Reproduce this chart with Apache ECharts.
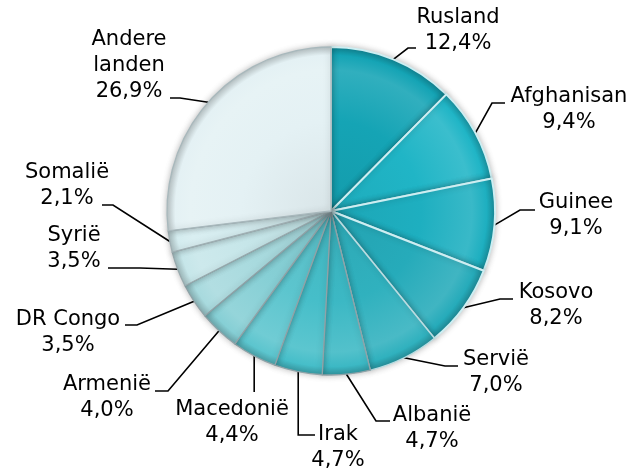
<!DOCTYPE html>
<html>
<head>
<meta charset="utf-8">
<script src="https://cdn.jsdelivr.net/npm/echarts@6/dist/echarts.min.js"></script>
<style>
html,body{margin:0;padding:0;background:#fff;}
#chart{width:640px;height:475px;}
</style>
</head>
<body>
<div id="chart"></div>
<script>
// Data
var categories = ['Rusland','Afghanisan','Guinee','Kosovo','Servië','Albanië','Irak','Macedonië','Armenië','DR Congo','Syrië','Somalië','Andere\nlanden'];
var values = [12.4, 9.4, 9.1, 8.2, 7.0, 4.7, 4.7, 4.4, 4.0, 3.5, 3.5, 2.1, 26.9];
var valueLabels = ['12,4%','9,4%','9,1%','8,2%','7,0%','4,7%','4,7%','4,4%','4,0%','3,5%','3,5%','2,1%','26,9%'];

// Styles / layout (not data)
var palette = ['#15a4b5','#20b5c6','#1eafc0','#26abba','#30b1be','#3cb8c4','#46bec9','#5cc5ce','#86cfd5','#a8dade','#c6e6e9','#d4ecef','#e4f1f4'];
var borderColors = ['#cdeef2','#cdeef2','#cdeef2','#cdeef2','#b9dde2','#8fa3a8','#8fa3a8','#8fa3a8','#8fa3a8','#8fa3a8','#98aaae','#a0b0b4','#a8b8bc'];
var CX = 331, CY = 211, R = 164;
// label block centre, line elbow, line end (null x: line drops vertically from the edge)
var labelLayoutSpec = [
  {x:458, y:31,  elbow:[408,48],  end:[416,48]},
  {x:569, y:110, elbow:[492,103], end:[505,103]},
  {x:576, y:216, elbow:[520,210], end:[535,210]},
  {x:556, y:306, elbow:[500,299], end:[513,299]},
  {x:496, y:373, elbow:[445,366], end:[458,366]},
  {x:432, y:429, elbow:[376,421], end:[390,421]},
  {x:338, y:448, elbow:[null,435], end:[315,435]},
  {x:232, y:423, elbow:[null,375], end:[null,392]},
  {x:107, y:398, elbow:[168,391], end:[155,391]},
  {x:68,  y:333, elbow:[137,325], end:[125,325]},
  {x:74,  y:249, elbow:[140,268], end:[108,268]},
  {x:67,  y:186, elbow:[113,205], end:[102,205]},
  {x:129, y:66,  elbow:[180,98],  end:[170,98]}
];

function shade(hex, amt){
  var n = parseInt(hex.slice(1),16);
  var r=(n>>16)&255,g=(n>>8)&255,b=n&255;
  function f(c){ return Math.max(0,Math.min(255,Math.round(amt>0? c+(255-c)*amt : c*(1+amt)))); }
  return 'rgb('+f(r)+','+f(g)+','+f(b)+')';
}

var seriesData = values.map(function(v,i){
  var base = palette[i];
  return {
    name: categories[i],
    value: v,
    label: {formatter: categories[i] + '\n' + valueLabels[i]},
    itemStyle: {
      borderColor: borderColors[i],
      borderWidth: i < 4 ? 2 : 1.3,
      color: {
        type:'radial', x:CX, y:CY, r:R, global:true,
        colorStops:[
          {offset:0, color: shade(base,-0.05)},
          {offset:0.55, color: base},
          {offset:0.86, color: shade(base,0.12)},
          {offset:0.95, color: base},
          {offset:1, color: shade(base,-0.18)}
        ]
      }
    }
  };
});

var chart = echarts.init(document.getElementById('chart'), null, {renderer:'canvas'});
chart.setOption({
  backgroundColor:'#ffffff',
  animation:false,
  series:[{
    type:'pie',
    center:[CX, CY],
    radius:[0, R],
    startAngle:90,
    clockwise:true,
    data: seriesData,
    itemStyle:{
      shadowBlur:6,
      shadowColor:'rgba(0,0,0,0.25)'
    },
    label:{
      show:true,
      position:'outside',
      color:'#000',
      fontFamily:'DejaVu Sans, Verdana, sans-serif',
      fontSize:21,
      lineHeight:26,
      align:'center'
    },
    labelLine:{
      show:true,
      length:10,
      length2:10,
      lineStyle:{color:'#000', width:1.6}
    },
    labelLayout: function(params){
      var s = labelLayoutSpec[params.dataIndex];
      var p0 = params.labelLinePoints ? params.labelLinePoints[0] : [s.end[0]||0, s.end[1]];
      var elbow = [s.elbow[0] == null ? p0[0] : s.elbow[0], s.elbow[1]];
      var end = [s.end[0] == null ? p0[0] : s.end[0], s.end[1]];
      return {
        x: s.x, y: s.y,
        align:'center', verticalAlign:'middle',
        labelLinePoints:[p0, elbow, end]
      };
    },
    emphasis:{disabled:true}
  }]
});
</script>
</body>
</html>
